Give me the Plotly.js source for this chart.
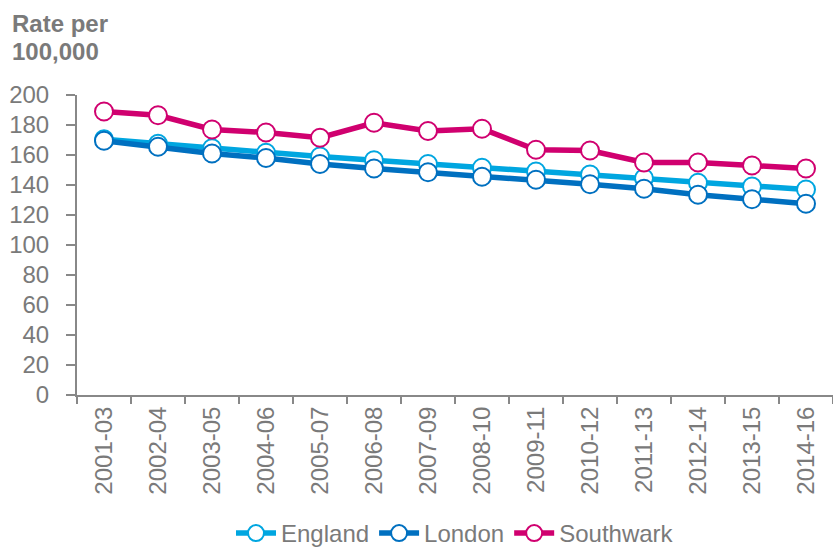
<!DOCTYPE html>
<html>
<head>
<meta charset="utf-8">
<script src="https://cdn.plot.ly/plotly-3.0.1.min.js"></script>
<style>html,body{margin:0;padding:0;background:#fff;}#chart{width:833px;height:556px;}</style>
</head>
<body>
<div id="chart"></div>
<script>
const periods = ['2001-03','2002-04','2003-05','2004-06','2005-07','2006-08','2007-09','2008-10','2009-11','2010-12','2011-13','2012-14','2013-15','2014-16'];
const england = [170.5, 167.5, 164.5, 161.5, 159, 156.5, 154, 151.5, 149, 147, 144.5, 141.5, 139, 137];
const london = [169.5, 165.5, 161, 158, 154, 151, 148.5, 145.5, 143.5, 140.5, 137.5, 133.5, 130.5, 127.5];
const southwark = [189, 186.5, 177, 175, 171.5, 181.5, 176, 177.5, 163.5, 163, 155, 155, 153, 151];
const yTicks = [0,20,40,60,80,100,120,140,160,180,200];

const FONT = '"Liberation Sans", Arial, sans-serif';
const GREY = '#7a7a7a';

function tr(name, y, color) {
  return {
    type: 'scatter', mode: 'lines+markers', name: name,
    x: periods, y: y,
    line: {color: color, width: 5.5},
    marker: {symbol: 'circle', size: 18, color: '#ffffff', line: {color: color, width: 2}},
    cliponaxis: false
  };
}

const data = [
  tr('England', england, '#00a6e0'),
  tr('London', london, '#0070c0'),
  tr('Southwark', southwark, '#d0006f')
];

const titleFont = {family: FONT, size: 24, color: GREY, weight: 'bold'};

const layout = {
  width: 833, height: 556,
  margin: {l: 77, r: 0, t: 95, b: 161, autoexpand: false},
  paper_bgcolor: '#ffffff', plot_bgcolor: '#ffffff',
  font: {family: FONT, color: GREY, size: 24},
  showlegend: true,
  legend: {orientation: 'h', x: 0.5, xanchor: 'center', yref: 'container', y: 0.0, yanchor: 'bottom',
           font: {family: FONT, size: 24, color: GREY}, itemwidth: 40, tracegroupgap: 0},
  xaxis: {
    type: 'category', range: [-0.5, 13.5], automargin: false,
    showline: true, linecolor: '#888888', linewidth: 2,
    ticks: 'outside', ticklen: 7, tickcolor: '#888888', tickwidth: 2,
    tickson: 'boundaries',
    tickangle: -90, tickfont: {family: FONT, size: 24, color: GREY},
    showgrid: false, zeroline: false, fixedrange: true
  },
  yaxis: {
    range: [0, 200], tickvals: yTicks, automargin: false,
    showline: true, linecolor: '#888888', linewidth: 2,
    ticks: 'outside', ticklen: 9, tickcolor: '#888888', tickwidth: 2,
    ticklabelstandoff: 12,
    tickfont: {family: FONT, size: 24, color: GREY},
    showgrid: false, zeroline: false, fixedrange: true
  },
  annotations: [
    {xref: 'paper', yref: 'paper', x: -0.088, y: 1.24, xanchor: 'left', yanchor: 'middle',
     align: 'left', showarrow: false, text: 'Rate per', font: titleFont},
    {xref: 'paper', yref: 'paper', x: -0.088, y: 1.145, xanchor: 'left', yanchor: 'middle',
     align: 'left', showarrow: false, text: '100,000', font: titleFont}
  ]
};

Plotly.newPlot('chart', data, layout, {displayModeBar: false, staticPlot: true});
</script>
</body>
</html>
